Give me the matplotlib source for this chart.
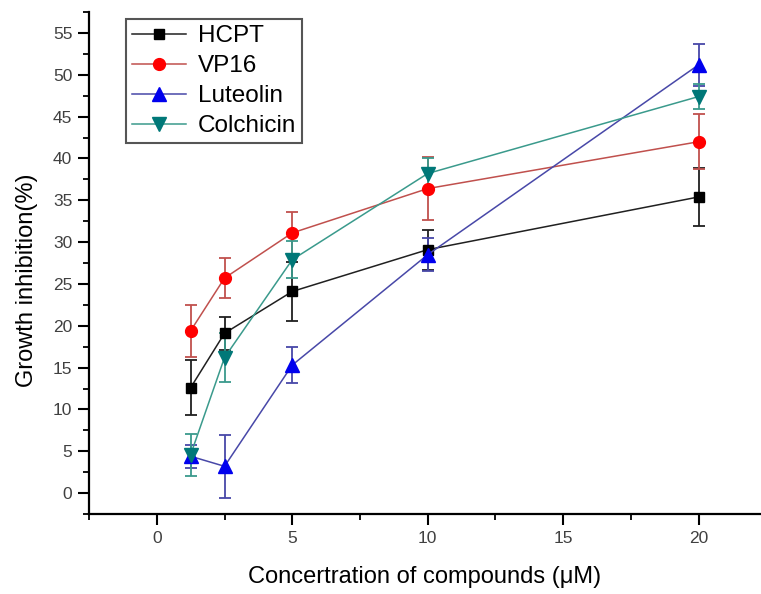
import matplotlib
matplotlib.use("Agg")
import matplotlib.pyplot as plt
from matplotlib.ticker import MultipleLocator

plt.rcParams['font.family'] = ['Liberation Sans', 'DejaVu Sans']

# concentrations (uM)
conc = [1.25, 2.5, 5, 10, 20]

# growth inhibition (%) and error bars
hcpt = [12.6, 19.1, 24.1, 29.1, 35.4]
hcpt_err = [3.3, 2.0, 3.5, 2.4, 3.5]
vp16 = [19.4, 25.7, 31.1, 36.4, 42.0]
vp16_err = [3.1, 2.4, 2.5, 3.8, 3.3]
luteolin = [4.4, 3.2, 15.3, 28.5, 51.2]
luteolin_err = [1.4, 3.8, 2.2, 2.0, 2.5]
colchicin = [4.6, 16.2, 27.9, 38.2, 47.4]
colchicin_err = [2.5, 2.9, 2.2, 1.8, 1.5]

series = [
    ("HCPT", hcpt, hcpt_err, 's', 7, 'black', '#202020'),
    ("VP16", vp16, vp16_err, 'o', 8.5, 'red', '#c0504d'),
    ("Luteolin", luteolin, luteolin_err, '^', 9.5, '#0000ee', '#4848a8'),
    ("Colchicin", colchicin, colchicin_err, 'v', 9.5, '#007878', '#3a9a8c'),
]

fig = plt.figure(figsize=(7.61, 5.94), dpi=100)
ax = fig.add_axes([0.117, 0.1347, 0.883, 0.845])

for name, vals, errs, mk, ms, mcol, lcol in series:
    ax.errorbar(conc, vals, yerr=errs, fmt='none', ecolor=lcol, elinewidth=1.3,
                capsize=4, capthick=1.3, zorder=2)
    ax.plot(conc, vals, color=lcol, linewidth=1.1, marker=mk, markersize=ms,
            markerfacecolor=mcol, markeredgecolor=mcol, label=name, zorder=3)

ax.set_xlim(-2.5, 22.3)
ax.set_ylim(-2.5, 57.5)
ax.xaxis.set_major_locator(MultipleLocator(5))
ax.xaxis.set_minor_locator(MultipleLocator(2.5))
ax.yaxis.set_major_locator(MultipleLocator(5))
ax.yaxis.set_minor_locator(MultipleLocator(2.5))

for s in ['top', 'right']:
    ax.spines[s].set_visible(False)
for s in ['left', 'bottom']:
    ax.spines[s].set_linewidth(1.6)

ax.tick_params(which='major', direction='out', length=8, width=1.5,
               labelsize=12.5, labelcolor='#404040', pad=4)
ax.tick_params(which='minor', direction='out', length=4.5, width=1.3)

ax.set_xlabel('Concertration of compounds (\u03bcM)', fontsize=17, labelpad=15)
ax.set_ylabel('Growth inhibition(%)', fontsize=17)
ax.yaxis.set_label_coords(-0.076, 0.466)

leg = ax.legend(loc='upper left', bbox_to_anchor=(0.055, 0.986), borderaxespad=0,
                fontsize=17.5, fancybox=False, framealpha=1, edgecolor='#555555',
                handlelength=2.2, labelspacing=0.33, borderpad=0.25,
                handletextpad=0.5)
leg.get_frame().set_linewidth(1.5)

fig.savefig('out.png', dpi=100)
